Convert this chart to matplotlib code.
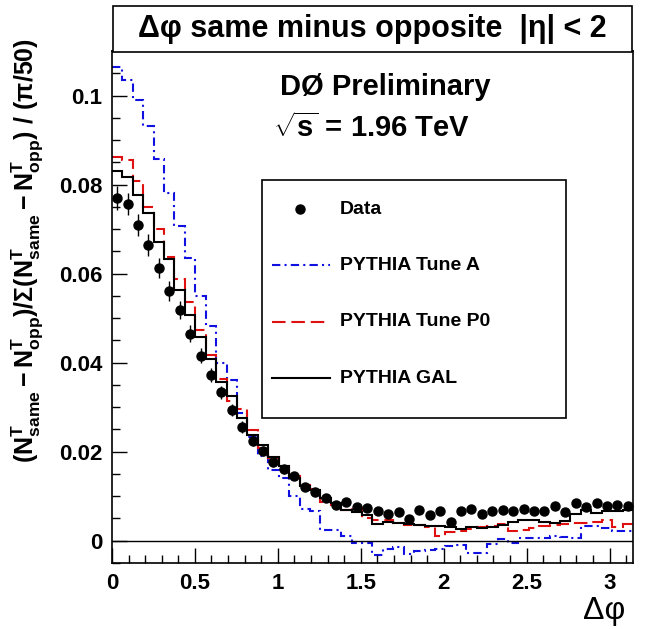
import numpy as np
import matplotlib
matplotlib.use("Agg")
import matplotlib.pyplot as plt
from matplotlib.patches import Rectangle
from matplotlib.lines import Line2D
from matplotlib.ticker import MultipleLocator, FuncFormatter

plt.rcParams['font.family'] = ['Liberation Sans', 'DejaVu Sans']
plt.rcParams['mathtext.fontset'] = 'custom'
plt.rcParams['mathtext.rm'] = 'Liberation Sans:bold'
plt.rcParams['mathtext.it'] = 'Liberation Sans:bold'
plt.rcParams['mathtext.bf'] = 'Liberation Sans:bold'

# 50 bins of width pi/50
edges = np.linspace(0, np.pi, 51)
centers = 0.5 * (edges[:-1] + edges[1:])

data_y = [0.0770, 0.0757, 0.0710, 0.0664, 0.0613, 0.0561, 0.0518, 0.0465, 0.0416, 0.0372,
          0.0333, 0.0294, 0.0255, 0.0225, 0.0201, 0.0176, 0.0161, 0.0146, 0.0121, 0.0109,
          0.0097, 0.0081, 0.0088, 0.0076, 0.0073, 0.0067, 0.0061, 0.0064, 0.0049, 0.0069,
          0.0058, 0.0066, 0.0043, 0.0066, 0.0072, 0.0061, 0.0066, 0.0070, 0.0067, 0.0072,
          0.0067, 0.0067, 0.0079, 0.0064, 0.0085, 0.0075, 0.0085, 0.0079, 0.0081, 0.0079]

data_err = [0.0026, 0.0025, 0.0025, 0.0024, 0.0023, 0.0022, 0.0020, 0.0019, 0.0017, 0.0016,
            0.0015, 0.0014, 0.0013, 0.0012, 0.0011, 0.0010, 0.0010, 0.0009, 0.0009, 0.0008,
            0.0008, 0.0008, 0.0008, 0.0008, 0.0008, 0.0008, 0.0008, 0.0008, 0.0008, 0.0008,
            0.0008, 0.0008, 0.0008, 0.0008, 0.0008, 0.0008, 0.0008, 0.0008, 0.0008, 0.0008,
            0.0008, 0.0008, 0.0008, 0.0008, 0.0008, 0.0008, 0.0008, 0.0008, 0.0008, 0.0008]

tune_a = [0.1064, 0.1034, 0.0989, 0.0932, 0.0858, 0.0781, 0.0708, 0.0634, 0.0550, 0.0483,
          0.0399, 0.0360, 0.0287, 0.0232, 0.0190, 0.0158, 0.0142, 0.0100, 0.0072, 0.0066,
          0.0025, 0.0025, 0.0010, -0.0004, -0.0005, -0.0031, -0.0018, -0.0013, -0.0030, -0.0022,
          -0.0020, -0.0018, -0.0011, -0.0009, -0.0028, -0.0027, -0.0007, 0.0003, -0.0004, 0.0007,
          0.0006, 0.0006, 0.0010, 0.0008, 0.0006, 0.0034, 0.0033, 0.0029, 0.0021, 0.0021]

tune_p0 = [0.0862, 0.0855, 0.0809, 0.0750, 0.0701, 0.0638, 0.0587, 0.0536, 0.0474, 0.0418,
           0.0364, 0.0313, 0.0295, 0.0249, 0.0208, 0.0186, 0.0169, 0.0146, 0.0126, 0.0116,
           0.0088, 0.0080, 0.0070, 0.0073, 0.0051, 0.0047, 0.0046, 0.0040, 0.0036, 0.0036,
           0.0030, 0.0011, 0.0020, 0.0022, 0.0027, 0.0031, 0.0034, 0.0038, 0.0022, 0.0024,
           0.0029, 0.0033, 0.0035, 0.0037, 0.0040, 0.0041, 0.0043, 0.0046, 0.0032, 0.0037]

gal = [0.0830, 0.0817, 0.0776, 0.0736, 0.0670, 0.0633, 0.0563, 0.0508, 0.0457, 0.0408,
       0.0356, 0.0325, 0.0276, 0.0238, 0.0216, 0.0189, 0.0167, 0.0141, 0.0124, 0.0113,
       0.0096, 0.0085, 0.0068, 0.0064, 0.0058, 0.0038, 0.0043, 0.0041, 0.0038, 0.0036,
       0.0034, 0.0034, 0.0030, 0.0026, 0.0032, 0.0028, 0.0032, 0.0036, 0.0042, 0.0047,
       0.0047, 0.0043, 0.0040, 0.0045, 0.0060, 0.0070, 0.0062, 0.0066, 0.0067, 0.0069]

labels = ['Data', 'PYTHIA Tune A', 'PYTHIA Tune P0', 'PYTHIA GAL']

fig = plt.figure(figsize=(6.45, 6.29), dpi=100)
ax = fig.add_axes([0.1736, 0.1049, 0.8078, 0.814])

# histograms
ax.stairs(tune_a, edges, baseline=None, color='#1010e0', lw=1.5, ls=(0, (4, 2, 1, 2)))
ax.stairs(tune_p0, edges, baseline=None, color='#e01010', lw=1.5, ls=(0, (6.5, 2.8)))
ax.stairs(gal, edges, baseline=None, color='black', lw=1.5)
ax.axhline(0, color='black', lw=1.0)

# data points
ax.errorbar(centers, data_y, yerr=data_err, fmt='o', color='black', ms=6.5,
            elinewidth=1.0, capsize=0)

ax.set_xlim(0, np.pi)
ax.set_ylim(-0.005, 0.11)
ax.xaxis.set_major_locator(MultipleLocator(0.5))
ax.xaxis.set_minor_locator(MultipleLocator(0.1))
ax.yaxis.set_major_locator(MultipleLocator(0.02))
ax.yaxis.set_minor_locator(MultipleLocator(0.005))
fmt = FuncFormatter(lambda v, p: '%g' % round(v, 4))
ax.xaxis.set_major_formatter(fmt)
ax.yaxis.set_major_formatter(fmt)
ax.tick_params(which='both', direction='in', top=False, right=False, width=1.0)
ax.tick_params(which='major', length=11, labelsize=16, pad=7)
ax.tick_params(which='minor', length=5.5)
for lab in ax.get_xticklabels() + ax.get_yticklabels():
    lab.set_fontweight('bold')
for sp in ax.spines.values():
    sp.set_linewidth(1.2)

# y title right-aligned to the top of the axis, as ROOT does
ax.set_ylabel(r'$(\mathrm{N}^{\mathrm{T}}_{\mathrm{same}} - \mathrm{N}^{\mathrm{T}}_{\mathrm{opp}})'
              r'/\Sigma(\mathrm{N}^{\mathrm{T}}_{\mathrm{same}} - \mathrm{N}^{\mathrm{T}}_{\mathrm{opp}})'
              r'\ /\ (\pi/50)$', fontsize=18, ha='right', va='center')
ax.yaxis.set_label_coords(-0.163, 1.025)
fig.text(0.97, 0.028, 'Δφ', fontsize=23, ha='right', va='center')

# title box
fig.add_artist(Rectangle((0.1752, 0.917), 0.8047, 0.0735, transform=fig.transFigure,
                         facecolor='white', edgecolor='black', lw=1.2))
fig.text(0.577, 0.954, 'Δφ same minus opposite  |η| < 2', fontsize=22,
         fontweight='bold', ha='center', va='center')

fig.text(0.434, 0.862, 'DØ Preliminary', fontsize=21, fontweight='bold', va='center')
fig.text(0.423, 0.797, r'$\sqrt{\mathrm{s}}$ = 1.96 TeV', fontsize=21, fontweight='bold',
         va='center')

# legend drawn by hand
ax.add_patch(Rectangle((0.288, 0.283), 0.583, 0.465, transform=ax.transAxes,
                       facecolor='white', edgecolor='black', lw=1.2, zorder=5))
entry_y = [0.691, 0.582, 0.471, 0.361]
styles = [dict(color='#1010e0', ls=(0, (4, 2, 1, 2))),
          dict(color='#e01010', ls=(0, (6.5, 2.8))),
          dict(color='black', ls='-')]
ax.add_line(Line2D([0.360], [entry_y[0]], transform=ax.transAxes, marker='o', color='black',
                   ms=6.5, ls='none', zorder=6))
for yy, st in zip(entry_y[1:], styles):
    ax.add_line(Line2D([0.307, 0.418], [yy, yy], transform=ax.transAxes, lw=1.5, zorder=6, **st))
for yy, lab in zip(entry_y, labels):
    ax.text(0.438, yy, lab, transform=ax.transAxes, fontsize=14, fontweight='bold',
            va='center', zorder=6)

fig.savefig('out.png', dpi=100)
